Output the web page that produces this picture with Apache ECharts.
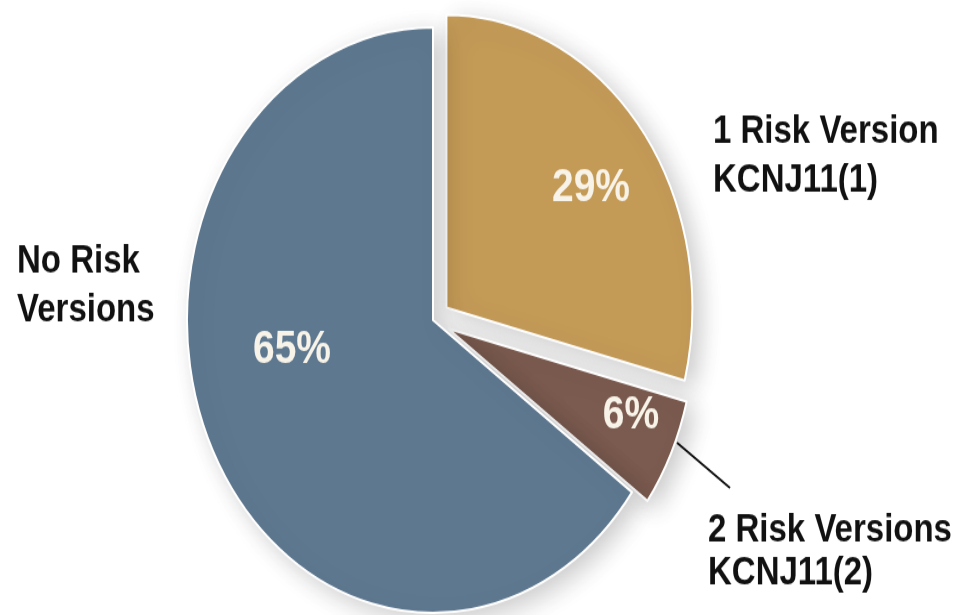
<!DOCTYPE html>
<html>
<head>
<meta charset="utf-8">
<script src="https://cdn.jsdelivr.net/npm/echarts@6/dist/echarts.min.js"></script>
<style>
  html, body { margin: 0; padding: 0; background: #ffffff; overflow: hidden; }
  #wrap { width: 956px; height: 615px; overflow: hidden; position: relative; }
  /* the whole drawing is stretched vertically, giving the tall oval pie */
  #chart { width: 956px; height: 517px; transform: scaleY(1.19); transform-origin: 0 0; }
</style>
</head>
<body>
<div id="wrap"><div id="chart"></div></div>
<script>
// Share of people by number of KCNJ11 risk versions carried (%)
const categories = ['1 Risk Version', '2 Risk Versions', 'No Risk Versions'];
const shares = [29, 6, 65];
const sliceColors = ['#c49a57', '#7b5b4f', '#5e7890'];

// Text blocks placed beside the pie
const sideLabelLines = [
  ['1 Risk Version', 'KCNJ11(1)'],
  ['2 Risk Versions', 'KCNJ11(2)'],
  ['No Risk', 'Versions']
];

const FONT = "'Liberation Sans', Arial, Helvetica, sans-serif";

// Layout (pixels, before the vertical stretch)
const pieCenter = [433, 269];
const pieRadius = 246;
const pctLabelPos = [[591, 158], [631, 349], [292, 294]];
const sideLabelPos = [
  { x: 713, yFirst: 110.5, lineHeight: 41 },
  { x: 708, yFirst: 445.5, lineHeight: 36 },
  { x: 17,  yFirst: 219.7, lineHeight: 41 }
];

const chart = echarts.init(document.getElementById('chart'));

const sideTexts = sideLabelLines.map((lines, i) => {
  const p = sideLabelPos[i];
  return {
    type: 'text',
    x: p.x,
    y: p.yFirst - p.lineHeight / 2,
    silent: true,
    style: {
      text: lines.join('\n'),
      fill: '#111111',
      font: 'bold 33px ' + FONT,
      lineHeight: p.lineHeight,
      align: 'left',
      verticalAlign: 'top'
    }
  };
});

// percentage written on each slice, taken from the slice value
const pctTexts = shares.map((v, i) => ({
  type: 'text',
  x: pctLabelPos[i][0],
  y: pctLabelPos[i][1],
  silent: true,
  z: 10,
  style: {
    text: v + '%',
    fill: '#f8f3e8',
    font: 'bold 39px ' + FONT,
    align: 'center',
    verticalAlign: 'middle'
  }
}));

// pointer from the small slice to its caption
const pointer = {
  type: 'line',
  silent: true,
  shape: { x1: 677, y1: 372, x2: 730, y2: 410 },
  style: { stroke: '#111111', lineWidth: 2 }
};

chart.setOption({
  backgroundColor: '#ffffff',
  animation: false,
  graphic: sideTexts.concat(pctTexts, [pointer]),
  series: [{
    type: 'pie',
    center: pieCenter,
    radius: pieRadius,
    startAngle: 90,
    clockwise: true,
    selectedMode: 'multiple',
    selectedOffset: 17,
    emphasis: { disabled: true },
    itemStyle: {
      borderColor: '#ffffff',
      borderWidth: 2,
      shadowBlur: 22,
      shadowOffsetX: 8,
      shadowOffsetY: 6,
      shadowColor: 'rgba(0,0,0,0.2)'
    },
    label: { show: false },
    labelLine: { show: false },
    data: categories.map((name, i) => ({
      name: name,
      value: shares[i],
      selected: i < 2,
      itemStyle: { color: sliceColors[i] }
    }))
  }]
});
</script>
</body>
</html>
